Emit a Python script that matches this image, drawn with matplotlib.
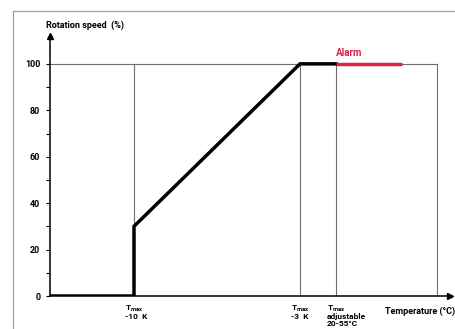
import matplotlib
matplotlib.use("Agg")
import matplotlib.pyplot as plt
from matplotlib.lines import Line2D

plt.rcParams['font.family'] = ['Roboto', 'DejaVu Sans']

# data (x in arbitrary temperature-axis units, 0..100)
speed_x = [0, 21, 21, 62.5, 71.5]
speed_y = [0, 0, 30, 100, 100]
alarm_x = [71.5, 88]
alarm_y = [100, 100]
ref_x = [21, 62.5, 71.5, 96.75]
ref_labels = ["T$_{\\mathregular{max}}$\n-10  K", "T$_{\\mathregular{max}}$\n-3  K",
              "T$_{\\mathregular{max}}$\nadjustable\n20-55°C"]
yticks = [0, 20, 40, 60, 80, 100]
yminor = [10, 30, 50, 70, 90]

W, H = 456, 329
fig = plt.figure(figsize=(W/100, H/100), dpi=100)
fig.patch.set_facecolor('white')
ax = fig.add_axes([50/W, 33/H, 400/W, 260/H])
ax.set_xlim(0, 100)
ax.set_ylim(0, 112)
ax.patch.set_alpha(0)

for s in ['top', 'right']:
    ax.spines[s].set_visible(False)
for s in ['left', 'bottom']:
    ax.spines[s].set_linewidth(1.1)
    ax.spines[s].set_color('black')

# arrows
ax.plot(1, 0, '>', color='black', ms=4.5, transform=ax.get_yaxis_transform(), clip_on=False)
ax.plot(0, 1, '^', color='black', ms=4.5, transform=ax.get_xaxis_transform(), clip_on=False)

# gray reference lines
gray = '#6e6e6e'
for xv in ref_x:
    ax.plot([xv, xv], [0, 100], color=gray, lw=0.8, zorder=1)
ax.plot([0, ref_x[-1]], [100, 100], color=gray, lw=0.8, zorder=1)

ax.plot(speed_x, speed_y, color='black', lw=2.5, solid_joinstyle='miter', zorder=3)
ax.plot(alarm_x, alarm_y, color='#e0204a', lw=2.5, solid_capstyle='butt', zorder=3)
ax.text(alarm_x[0], 102.5, "Alarm", color='#e0204a', fontsize=7, fontweight='bold',
        ha='left', va='bottom')

ax.set_yticks(yticks)
ax.set_yticks(yminor, minor=True)
ax.set_yticklabels([str(v) for v in yticks], fontsize=6.5, fontweight='bold')
ax.tick_params(axis='y', which='both', length=3, width=0.8, direction='out', pad=4)
ax.set_xticks([])

for xv, lab in zip(ref_x[:3], ref_labels):
    ax.annotate(lab, xy=(xv, 0), xycoords='data', xytext=(-9, -7), textcoords='offset pixels',
                ha='left', va='top', fontsize=6, fontweight='bold', linespacing=0.95)

fig.text(46/W, 1 - 25/H, "Rotation speed  (%)", fontsize=6.5, fontweight='bold', ha='left', va='center')
fig.text(455/W, 1 - 311/H, "Temperature (°C)", fontsize=6.5, fontweight='bold', ha='right', va='center')

# outer frame
fig.add_artist(Line2D([13/W, 13/W], [0, 1 - 11/H], color='#a0a0a0', lw=0.9))
fig.add_artist(Line2D([13/W, 1], [1 - 11/H, 1 - 11/H], color='#a0a0a0', lw=0.9))

fig.savefig("out.png", dpi=100)
